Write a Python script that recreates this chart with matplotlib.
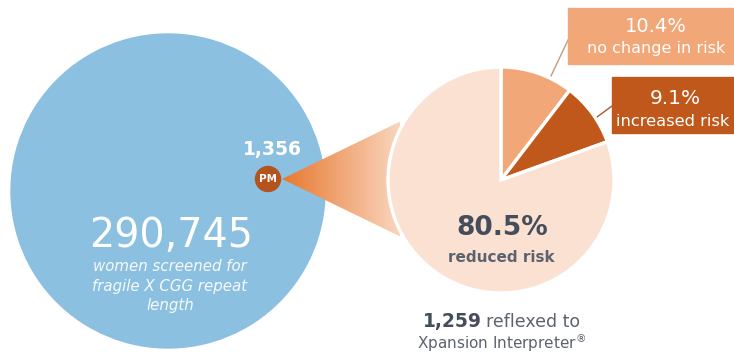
import matplotlib.pyplot as plt
import numpy as np
from matplotlib.patches import Circle, Polygon, Rectangle
from matplotlib.colors import LinearSegmentedColormap

screened = 290745
premutation = 1356
reflexed = 1259
risk_labels = ['no change in risk', 'increased risk', 'reduced risk']
risk_pct = [10.4, 9.1, 80.5]
risk_colors = ['#f2a779', '#c1581b', '#fbe1d2']

W, H = 734, 356
blue = '#8cc0e0'
slate = '#434d5b'
gray = '#5c636e'

fig = plt.figure(figsize=(W / 100, H / 100), dpi=100)
ax = fig.add_axes([0, 0, 1, 1])

# screened population
ax.add_patch(Circle((168, 165), 157, color=blue, zorder=1))

# funnel from the PM dot into the pie, orange fading to peach
apex = (282, 177)
funnel = Polygon([apex, (430, 249), (430, 105)], closed=True,
                 facecolor='none', edgecolor='none', zorder=2)
ax.add_patch(funnel)
cmap = LinearSegmentedColormap.from_list('funnel', ['#e8782f', '#f9d6bf'])
grad = np.linspace(0, 1, 256).reshape(1, -1)
img = ax.imshow(grad, cmap=cmap, extent=[282, 400, 100, 260],
                aspect='auto', zorder=2)
img.set_clip_path(funnel)

# PM dot
ax.add_patch(Circle((268, 177), 12.5, color='#b5531c', zorder=3))
ax.text(268, 177, 'PM', color='white', fontsize=7.5, fontweight='bold',
        ha='center', va='center', zorder=4)
ax.text(272, 206, f'{premutation:,}', color='white', fontsize=13.5,
        fontweight='bold', ha='center', va='center', zorder=4)

# risk pie
wedges, _ = ax.pie(risk_pct, colors=risk_colors, startangle=90,
                   counterclock=False, center=(501, 176), radius=113,
                   wedgeprops=dict(edgecolor='white', linewidth=2.4))
for w in wedges:
    w.set_zorder(5)
ax.set_xlim(0, W)
ax.set_ylim(0, H)
ax.set_aspect('equal')
ax.axis('off')

# big number in the blue circle
ax.text(171, 120, f'{screened:,}', color='white', fontsize=28.5,
        ha='center', va='center', zorder=4)
ax.text(170, 70, 'women screened for\nfragile X CGG repeat\nlength',
        color='white', alpha=0.92, fontsize=10.8, style='italic',
        ha='center', va='center', linespacing=1.35, zorder=4)

# labels inside the pie
ax.text(502, 128, f'{risk_pct[2]}%', color=slate, fontsize=19,
        fontweight='bold', ha='center', va='center', zorder=6)
ax.text(501, 98, risk_labels[2], color=gray, fontsize=11,
        fontweight='bold', ha='center', va='center', zorder=6)

# callout boxes for the two small slices
ax.add_patch(Rectangle((568, 292), 165, 56, color=risk_colors[0], zorder=5))
ax.text(656, 330, f'{risk_pct[0]}%', color='white', fontsize=14,
        ha='center', va='center', zorder=6)
ax.text(656, 307, risk_labels[0], color='white', fontsize=11.5,
        ha='center', va='center', zorder=6)
ax.plot([551, 568], [280, 316], color='#c99a78', lw=1, zorder=4)

ax.add_patch(Rectangle((612, 223), 140, 56, color=risk_colors[1], zorder=5))
ax.text(675, 258, f'{risk_pct[1]}%', color='white', fontsize=14.5,
        ha='center', va='center', zorder=6)
ax.text(616, 234, risk_labels[1], color='white', fontsize=11.7,
        ha='left', va='center', zorder=6)
ax.plot([597, 612], [239, 250], color='#a65a2a', lw=1, zorder=4)

# reflex count under the pie
ax.text(482, 29, f'{reflexed:,}', color=slate, fontsize=13.5,
        fontweight='bold', ha='right', va='baseline', zorder=6)
ax.text(486, 29, 'reflexed to', color=gray, fontsize=12.5,
        ha='left', va='baseline', zorder=6)
ax.text(502, 13, 'Xpansion Interpreter$^{®}$', color=gray, fontsize=11,
        ha='center', va='center', zorder=6)

plt.savefig('out.png', dpi=100)
